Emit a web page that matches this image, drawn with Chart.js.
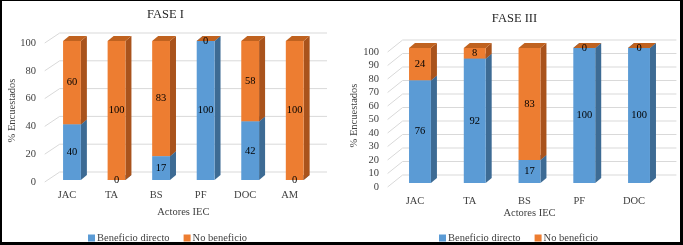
<!DOCTYPE html>
<html>
<head>
<meta charset="utf-8">
<script src="https://cdn.jsdelivr.net/npm/chart.js@4/dist/chart.umd.min.js"></script>
<style>
  html, body { margin: 0; padding: 0; width: 683px; height: 245px; overflow: hidden; background: #fff; }
  .box { position: absolute; top: 0; }
  #frame { position: absolute; left: 0; top: 0; width: 683px; height: 245px; box-sizing: border-box;
           border-style: solid; border-color: #000; border-width: 1px 3px 3px 2px; pointer-events: none; }
</style>
</head>
<body>
<div class="box" style="left:0"><canvas id="fase1" width="340" height="245"></canvas></div>
<div class="box" style="left:340px"><canvas id="fase3" width="343" height="245"></canvas></div>
<div id="frame"></div>

<script>
// datos
const seriesNames = ['Beneficio directo', 'No beneficio'];

const actoresF1 = ['JAC', 'TA', 'BS', 'PF', 'DOC', 'AM'];
const beneficioF1 = [40, 0, 17, 100, 42, 0];
const noBeneficioF1 = [60, 100, 83, 0, 58, 100];

const actoresF3 = ['JAC', 'TA', 'BS', 'PF', 'DOC'];
const beneficioF3 = [76, 92, 17, 100, 100];
const noBeneficioF3 = [24, 8, 83, 0, 0];

const serif = "'Liberation Serif', 'Times New Roman', serif";
const textColor = '#404040';
const font = (size) => ({ family: serif, size: size });

// paredes, caras laterales/superiores (efecto 3D), etiquetas y leyenda
const bar3d = {
  id: 'bar3d',
  beforeDatasetsDraw(chart, args, opts) {
    const ctx = chart.ctx;
    const area = chart.chartArea;
    const y = chart.scales.y;
    ctx.save();
    ctx.strokeStyle = '#d9d9d9';
    ctx.lineWidth = 1;
    y.ticks.forEach(t => {
      const py = y.getPixelForValue(t.value);
      ctx.beginPath();
      ctx.moveTo(area.left - 5, py + opts.labelOff);
      ctx.lineTo(area.left + 10, py - 8);
      ctx.lineTo(area.right + 10, py - 8);
      ctx.stroke();
    });
    const dx = 6, dy = 5;
    const n = chart.data.labels.length;
    for (let i = 0; i < n; i++) {
      chart.data.datasets.forEach((ds, d) => {
        const el = chart.getDatasetMeta(d).data[i];
        const p = el.getProps(['x', 'y', 'base', 'width'], true);
        const l = p.x - p.width / 2, r = p.x + p.width / 2;
        const top = Math.min(p.y, p.base), bot = Math.max(p.y, p.base);
        ctx.fillStyle = ds.sideColor;
        ctx.beginPath();
        ctx.moveTo(r, top); ctx.lineTo(r + dx, top - dy); ctx.lineTo(r + dx, bot - dy); ctx.lineTo(r, bot);
        ctx.closePath(); ctx.fill();
        ctx.fillStyle = ds.topColor;
        ctx.beginPath();
        ctx.moveTo(l, top); ctx.lineTo(l + dx, top - dy); ctx.lineTo(r + dx, top - dy); ctx.lineTo(r, top);
        ctx.closePath(); ctx.fill();
      });
    }
    ctx.restore();
  },
  afterDatasetsDraw(chart) {
    const ctx = chart.ctx;
    ctx.save();
    ctx.font = '10.5px ' + serif;
    ctx.fillStyle = '#000';
    ctx.textAlign = 'center';
    ctx.textBaseline = 'middle';
    chart.data.datasets.forEach((ds, d) => {
      chart.getDatasetMeta(d).data.forEach((el, i) => {
        const p = el.getProps(['x', 'y', 'base'], true);
        ctx.fillText(String(ds.data[i]), p.x, (p.y + p.base) / 2);
      });
    });
    ctx.restore();
  },
  afterDraw(chart, args, opts) {
    // leyenda estilo Excel (cuadro pequeño pegado al texto)
    const ctx = chart.ctx;
    ctx.save();
    ctx.font = '10.5px ' + serif;
    ctx.textBaseline = 'middle';
    ctx.textAlign = 'left';
    let x = opts.legendX;
    const y = opts.legendY;
    chart.data.datasets.forEach(ds => {
      ctx.fillStyle = ds.backgroundColor;
      ctx.fillRect(x, y - 3.5, 7, 7);
      x += 9;
      ctx.fillStyle = textColor;
      ctx.fillText(ds.label, x, y);
      x += ctx.measureText(ds.label).width + 14;
    });
    ctx.restore();
  }
};

function makeChart(id, labels, ben, noBen, cfg) {
  return new Chart(document.getElementById(id), {
    type: 'bar',
    data: {
      labels: labels,
      datasets: [
        { label: seriesNames[0], data: ben, backgroundColor: '#5b9bd5', sideColor: '#3d6b94', topColor: '#4a83b8',
          barPercentage: 0.4, categoryPercentage: 1, borderWidth: 0 },
        { label: seriesNames[1], data: noBen, backgroundColor: '#ed7d31', sideColor: '#a9531c', topColor: '#c0621f',
          barPercentage: 0.4, categoryPercentage: 1, borderWidth: 0 }
      ]
    },
    options: {
      responsive: false,
      animation: false,
      events: [],
      layout: { padding: cfg.pad },
      scales: {
        x: {
          stacked: true,
          grid: { display: false, drawTicks: false },
          border: { display: false },
          ticks: { font: font(10.5), color: textColor, padding: cfg.xTickPad, labelOffset: -5 },
          title: { display: true, text: 'Actores IEC', font: font(10.5), color: textColor, padding: { top: 0, bottom: 0 } },
          afterFit: s => { s.height = cfg.xHeight; }
        },
        y: {
          stacked: true,
          min: 0,
          max: 100,
          grid: { display: false, drawTicks: false },
          border: { display: false },
          ticks: { stepSize: cfg.step, autoSkip: false, font: font(10.5), color: textColor,
                   padding: cfg.yTickPad, labelOffset: cfg.labelOff },
          title: { display: true, text: '% Encuestados', font: font(10.5), color: textColor,
                   padding: { top: cfg.yTitlePad, bottom: 0 } },
          afterFit: s => { s.width = cfg.yWidth; }
        }
      },
      plugins: {
        title: { display: true, text: cfg.title, font: { family: serif, size: 12.5, weight: 'normal' }, color: '#262626',
                 padding: cfg.titlePad },
        legend: { display: false },
        tooltip: { enabled: false },
        bar3d: { labelOff: cfg.labelOff, legendX: cfg.legendX, legendY: 238 }
      }
    },
    plugins: [bar3d]
  });
}

makeChart('fase1', actoresF1, beneficioF1, noBeneficioF1, {
  title: 'FASE I', step: 20,
  pad: { left: 14, right: 23, top: 0, bottom: 26.4 },
  titlePad: { top: 7.5, bottom: 18.5 },
  yWidth: 35.7, yTickPad: 13.7, yTitlePad: -7.6, labelOff: 2,
  xHeight: 38.6, xTickPad: 8.7, legendX: 88
});

makeChart('fase3', actoresF3, beneficioF3, noBeneficioF3, {
  title: 'FASE III', step: 10,
  pad: { left: 22.6, right: 16.6, top: 0, bottom: 25.4 },
  titlePad: { top: 11.5, bottom: 21.5 },
  yWidth: 30, yTickPad: 13.6, yTitlePad: -14.2, labelOff: 4,
  xHeight: 36.6, xTickPad: 11.7, legendX: 99
});
</script>
</body>
</html>
